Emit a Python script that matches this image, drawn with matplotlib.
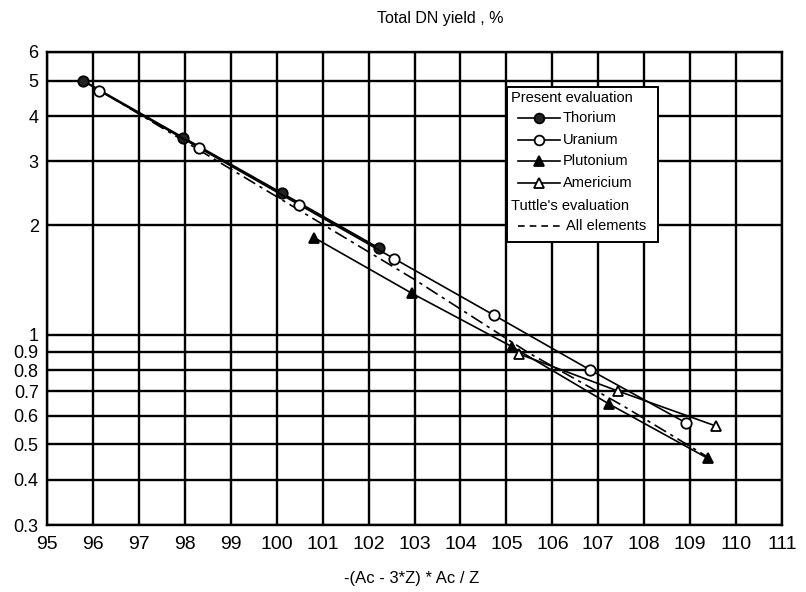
import numpy as np
import matplotlib
matplotlib.use("Agg")
import matplotlib.pyplot as plt
from matplotlib.lines import Line2D
from matplotlib.patches import Rectangle

plt.rcParams['font.family'] = ['Liberation Sans', 'DejaVu Sans']

# values
th_x = [95.78, 97.96, 100.12, 102.23]
th_y = [5.0, 3.49, 2.45, 1.73]
u_x = [96.13, 98.31, 100.49, 102.56, 104.72, 106.83, 108.92]
u_y = [4.70, 3.27, 2.28, 1.62, 1.135, 0.80, 0.572]
pu_x = [100.82, 102.95, 105.13, 107.24, 109.38]
pu_y = [1.85, 1.30, 0.927, 0.645, 0.458]
am_x = [105.28, 107.44, 109.57]
am_y = [0.886, 0.70, 0.561]
tut_x = [95.8, 100.0, 103.0, 105.5, 107.55, 109.4]
tut_y = [5.0, 2.40, 1.42, 0.89, 0.637, 0.46]

xticks = list(range(95, 112))
yticks = [0.3, 0.4, 0.5, 0.6, 0.7, 0.8, 0.9, 1, 2, 3, 4, 5, 6]
ylabels = ["0.3", "0.4", "0.5", "0.6", "0.7", "0.8", "0.9", "1", "2", "3", "4", "5", "6"]

W, H = 806, 592
fig = plt.figure(figsize=(W / 100, H / 100), dpi=100)
ax = fig.add_axes([47 / W, 1 - 525 / H, 735 / W, 473 / H])

ax.set_yscale("log")
ax.set_xlim(95, 111)
ax.set_ylim(0.3, 6)
ax.set_xticks(xticks)
ax.set_xticklabels([str(t) for t in xticks], fontsize=14)
ax.set_yticks(yticks)
ax.set_yticklabels(ylabels, fontsize=13)
ax.minorticks_off()
ax.tick_params(axis="x", length=0, pad=8)
ax.tick_params(axis="y", length=0, pad=6)
ax.grid(True, color="black", linewidth=1.7)
for s in ax.spines.values():
    s.set_linewidth(1.7)

mk = dict(markersize=7.5, markeredgecolor="black", markeredgewidth=1.3, zorder=4)
ax.plot(th_x, th_y, color="black", lw=1.5, marker="o", markerfacecolor="#222222", **mk)
ax.plot(u_x, u_y, color="black", lw=1.2, marker="o", markerfacecolor="white", **mk)
ax.plot(pu_x, pu_y, color="black", lw=1.2, marker="^", markerfacecolor="black", **mk)
ax.plot(am_x, am_y, color="black", lw=1.2, marker="^", markerfacecolor="white", **mk)
ax.plot(tut_x, tut_y, color="black", lw=1.2, dashes=[8, 3, 2, 3], zorder=3)

fig.text(440 / W, 1 - 18 / H, "Total DN yield , %", ha="center", va="center", fontsize=11.5)
fig.text(412 / W, 1 - 578 / H, "-(Ac - 3*Z) * Ac / Z", ha="center", va="center", fontsize=12)


# legend drawn by hand, in figure pixels
def fx(px):
    return px / W


def fy(py):
    return 1 - py / H


fig.patches.append(Rectangle((fx(507), fy(242)), fx(658) - fx(507), fy(87) - fy(242),
                             transform=fig.transFigure, facecolor="white",
                             edgecolor="black", linewidth=1.4, zorder=10))
lfs = 10.5
fig.text(fx(511), fy(98), "Present evaluation", fontsize=lfs, va="center", zorder=11)
rows = [("Thorium", 118, "o", "#222222"), ("Uranium", 140, "o", "white"),
        ("Plutonium", 161, "^", "black"), ("Americium", 183, "^", "white")]
for name, py, m, fc in rows:
    fig.lines.append(Line2D([fx(518), fx(560)], [fy(py), fy(py)], transform=fig.transFigure,
                            color="black", lw=1.2, zorder=11))
    fig.lines.append(Line2D([fx(539)], [fy(py)], transform=fig.transFigure, marker=m,
                            markerfacecolor=fc, markeredgecolor="black", markersize=7,
                            markeredgewidth=1.3, zorder=12))
    fig.text(fx(563), fy(py), name, fontsize=lfs, va="center", zorder=11)
fig.text(fx(511), fy(206), "Tuttle's evaluation", fontsize=lfs, va="center", zorder=11)
fig.lines.append(Line2D([fx(518), fx(560)], [fy(226), fy(226)], transform=fig.transFigure,
                        color="black", lw=1.2, dashes=[4, 3], zorder=11))
fig.text(fx(566), fy(226), "All elements", fontsize=lfs, va="center", zorder=11)

fig.savefig("out.png", dpi=100)
